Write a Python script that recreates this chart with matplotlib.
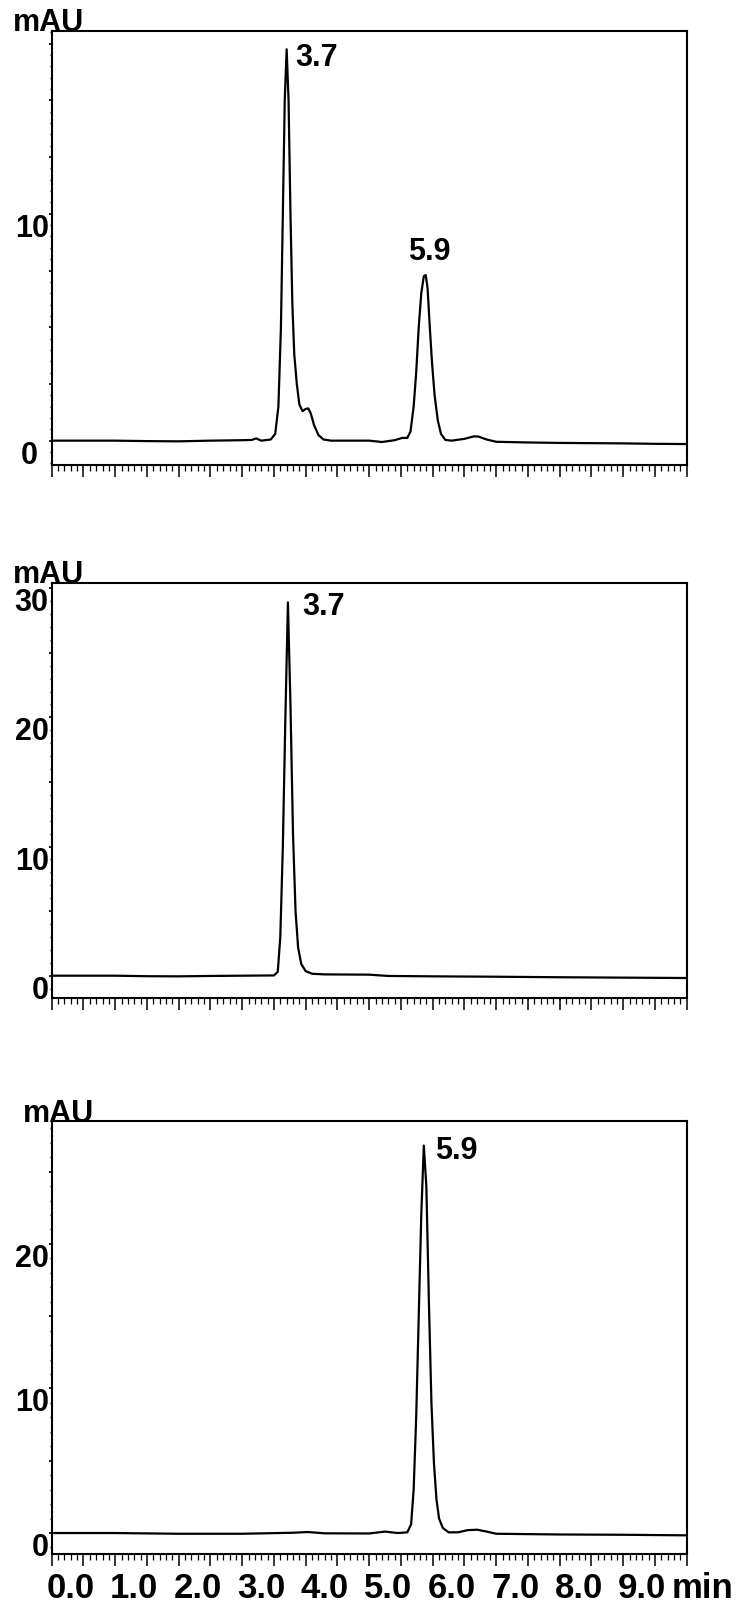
import matplotlib
matplotlib.use('Agg')
import matplotlib.pyplot as plt
from matplotlib.ticker import MultipleLocator
from matplotlib.transforms import offset_copy

plt.rcParams['font.family'] = ['Liberation Sans', 'DejaVu Sans']

# panel 1: mixture, two peaks
t1 = [0.0, 0.5, 1.0, 1.5, 2.0, 2.5, 3.0, 3.15, 3.22, 3.3, 3.45, 3.52, 3.57, 3.61, 3.64, 3.67,
      3.70, 3.73, 3.76, 3.79, 3.82, 3.86, 3.90, 3.95, 4.00, 4.04, 4.08, 4.13, 4.20, 4.28, 4.4,
      4.8, 5.0, 5.2, 5.4, 5.52, 5.6, 5.65, 5.70, 5.74, 5.78, 5.82, 5.86, 5.89, 5.92, 5.95, 5.99,
      6.03, 6.08, 6.13, 6.20, 6.3, 6.5, 6.65, 6.72, 6.85, 7.0, 7.5, 8.0, 8.5, 9.0, 9.5, 10.0]
s1 = [0.0, 0.0, 0.0, -0.02, -0.03, 0.0, 0.02, 0.03, 0.1, 0.0, 0.05, 0.3, 1.5, 5.0, 10.0, 15.0,
      17.25, 15.0, 10.0, 6.0, 3.8, 2.5, 1.6, 1.3, 1.4, 1.42, 1.2, 0.7, 0.25, 0.05, 0.0,
      0.0, 0.0, -0.06, 0.02, 0.12, 0.12, 0.4, 1.5, 3.0, 5.0, 6.5, 7.25, 7.3, 6.7, 5.2, 3.4,
      2.0, 0.9, 0.3, 0.03, 0.0, 0.08, 0.19, 0.18, 0.05, -0.05, -0.08, -0.1, -0.11, -0.12, -0.14, -0.15]

# panel 2: first compound
t2 = [0.0, 1.0, 1.5, 2.0, 2.5, 3.0, 3.5, 3.56, 3.60, 3.64, 3.68, 3.72, 3.76, 3.80, 3.84, 3.88,
      3.93, 4.0, 4.1, 4.3, 5.0, 5.3, 6.0, 7.0, 8.0, 9.0, 10.0]
s2 = [0.0, 0.0, -0.04, -0.05, -0.02, 0.0, 0.02, 0.3, 3.0, 10.0, 20.0, 28.9, 21.0, 11.0, 5.0, 2.2,
      0.9, 0.35, 0.15, 0.1, 0.08, -0.02, -0.05, -0.08, -0.12, -0.15, -0.18]

# panel 3: second compound
t3 = [0.0, 1.0, 2.0, 3.0, 3.8, 4.03, 4.3, 5.0, 5.25, 5.45, 5.6, 5.66, 5.70, 5.74, 5.78, 5.82,
      5.86, 5.90, 5.94, 5.98, 6.02, 6.06, 6.10, 6.16, 6.25, 6.4, 6.55, 6.7, 6.85, 7.0, 8.0, 9.0, 10.0]
s3 = [0.0, 0.0, -0.05, -0.05, 0.02, 0.07, -0.02, -0.03, 0.1, 0.0, 0.05, 0.6, 3.0, 8.0, 15.0, 22.0,
      26.8, 24.0, 16.0, 9.0, 4.8, 2.3, 1.0, 0.35, 0.05, 0.05, 0.2, 0.23, 0.1, -0.05, -0.1, -0.12, -0.16]

traces = [(t1, s1), (t2, s2), (t3, s3)]
ylims = [(-1.06, 18.07), (-1.75, 30.4), (-1.45, 28.5)]
ysteps = [(2.5, 0.5), (5, 1), (5, 1)]
ylabels = [[0, 10], [0, 10, 20, 30], [0, 10, 20]]
peak_labels = [[('3.7', 3.83, 16.9, 'left'), ('5.9', 5.94, 8.36, 'center')],
               [('3.7', 3.94, 28.6, 'left')],
               [('5.9', 6.04, 26.5, 'left')]]
xlabels = [0, 1, 2, 3, 4, 5, 6, 7, 8, 9]

W, H = 736, 1606
fig = plt.figure(figsize=(W / 100, H / 100), dpi=100)
boxes = [(31.7, 465.7), (584, 999.3), (1122, 1555)]
left, right = 51.7, 686.7
narrow = ['Liberation Sans Narrow', 'Liberation Sans', 'DejaVu Sans']

for i, (top, bot) in enumerate(boxes):
    ax = fig.add_axes([left / W, 1 - bot / H, (right - left) / W, (bot - top) / H])
    t, s = traces[i]
    ax.plot(t, s, color='black', lw=1.6)
    ax.set_xlim(0, 10)
    ax.set_ylim(*ylims[i])
    for sp in ax.spines.values():
        sp.set_linewidth(1.5)
    ax.xaxis.set_major_locator(MultipleLocator(0.5))
    ax.xaxis.set_minor_locator(MultipleLocator(0.1))
    ax.yaxis.set_major_locator(MultipleLocator(ysteps[i][0]))
    ax.yaxis.set_minor_locator(MultipleLocator(ysteps[i][1]))
    ax.tick_params(axis='x', which='major', direction='out', length=8.6, width=1.1, labelbottom=False)
    ax.tick_params(axis='x', which='minor', direction='out', length=4.3, width=0.9)
    ax.tick_params(axis='y', which='major', direction='out', length=2.4, width=1.2, labelleft=False)
    ax.tick_params(axis='y', which='minor', direction='out', length=1.4, width=1.0)

    for v in ylabels[i]:
        dx = -14 if (i == 0 and v == 0) else -3
        ytr = offset_copy(ax.get_yaxis_transform(), fig=fig, x=dx, y=-22, units='dots')
        ax.text(0, v, str(v), transform=ytr, ha='right', va='baseline',
                fontsize=22, fontweight='bold')

    for txt, x, y, ha in peak_labels[i]:
        ax.text(x, y, txt, ha=ha, va='center', fontsize=22, fontweight='bold')

    fig.text(13 / W if i < 2 else 23 / W, 1 - (top - 0.5) / H, 'mAU', ha='left', va='baseline',
             fontsize=22, fontweight='bold')

    if i == 2:
        xtr = offset_copy(ax.get_xaxis_transform(), fig=fig, x=19, y=-43, units='dots')
        for v in xlabels:
            ax.text(v, 0, f'{v:.1f}', transform=xtr, ha='center', va='baseline',
                    fontsize=25, fontweight='bold', family=narrow)
        fig.text(703 / W, 1 - 1598 / H, 'min', ha='center', va='baseline', fontsize=25,
                 fontweight='bold', family=narrow)

fig.savefig('out.png', dpi=100)
